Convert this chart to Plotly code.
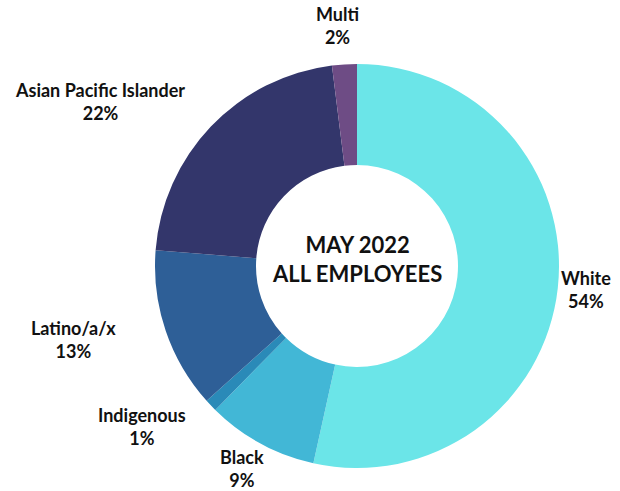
import plotly.graph_objects as go

# Workforce composition, May 2022
groups = ["White", "Black", "Indigenous", "Latino/a/x", "Asian Pacific Islander", "Multi"]
shares = [54, 9, 1, 13, 22, 2]
colors = ["#6BE5E8", "#42B7D6", "#2A8AB8", "#2E5F97", "#33366B", "#6E4C85"]

# Label anchor points (pixels in a 620x491 canvas)
W, H = 620, 491
label_pos = {
    "White": (586, 289),
    "Black": (242, 468),
    "Indigenous": (142, 426),
    "Latino/a/x": (73, 339),
    "Asian Pacific Islander": (100, 101),
    "Multi": (337, 26),
}

fig = go.Figure(
    go.Pie(
        labels=groups,
        values=shares,
        marker=dict(colors=colors, line=dict(width=0)),
        hole=0.5,
        sort=False,
        direction="clockwise",
        rotation=0,
        textinfo="none",
        hoverinfo="label+percent",
        domain=dict(x=[155 / W, 559 / W], y=[1 - 468 / H, 1 - 64 / H]),
        showlegend=False,
    )
)

font = dict(family="Lato, 'Open Sans', sans-serif", size=18, color="#111111")
for g, v in zip(groups, shares):
    px, py = label_pos[g]
    fig.add_annotation(
        x=px / W, y=1 - py / H, xref="paper", yref="paper",
        text=f"<b>{g}</b><br><b>{v}%</b>",
        showarrow=False, font=font, align="center",
        xanchor="center", yanchor="middle",
    )

fig.add_annotation(
    x=357 / W, y=1 - 259 / H, xref="paper", yref="paper",
    text="<b>MAY 2022</b><br><b>ALL EMPLOYEES</b>",
    showarrow=False, align="center",
    font=dict(family="Lato, 'Open Sans', sans-serif", size=22, color="#111111"),
    xanchor="center", yanchor="middle",
)

fig.update_layout(
    width=W, height=H,
    margin=dict(l=0, r=0, t=0, b=0),
    paper_bgcolor="white",
    plot_bgcolor="white",
)

fig.write_html("out.html")
